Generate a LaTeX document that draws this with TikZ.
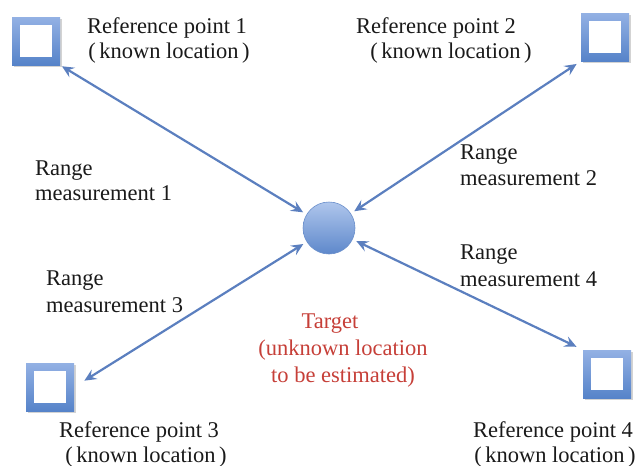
\documentclass[tikz,border=0pt]{standalone}
\usepackage{fontspec}
\setmainfont{Liberation Serif}
\usetikzlibrary{arrows.meta,shadows}

\definecolor{frametop}{HTML}{93B1E4}
\definecolor{framebot}{HTML}{5683C9}
\definecolor{linkblue}{HTML}{5B7FBF}
\definecolor{balltop}{HTML}{AFC6EC}
\definecolor{ballbot}{HTML}{5E88CB}
\definecolor{ballrim}{HTML}{6A8FCB}
\definecolor{txt}{HTML}{1A1A1A}
\definecolor{tred}{HTML}{C63F38}

% widely spaced parentheses around the second line of each reference label
\newcommand\knownloc{(\kern3.5pt known location\kern3.5pt)}

\tikzset{
  refbox/.style={rectangle, minimum width=48pt, minimum height=48pt, inner sep=0pt,
    top color=frametop, bottom color=framebot,
    drop shadow={shadow xshift=1.5pt, shadow yshift=-1.5pt, opacity=0.35},
    path picture={\fill[white]
      ([shift={(8pt,8pt)}]path picture bounding box.south west) rectangle
      ([shift={(-8pt,-8pt)}]path picture bounding box.north east);}},
  target/.style={circle, minimum size=52pt, inner sep=0pt,
    top color=balltop, bottom color=ballbot, draw=ballrim, line width=0.6pt},
  lbl/.style={font=\fontsize{22.5}{26}\selectfont, text=txt, inner sep=0pt},
  lblred/.style={lbl, text=tred},
  rangelink/.style={draw=linkblue, line width=2.2pt,
    {Stealth[length=12pt,width=11pt,inset=4.5pt]}-{Stealth[length=12pt,width=11pt,inset=4.5pt]}},
}

\begin{document}
\begin{tikzpicture}[x=1pt, y=-1pt]
\useasboundingbox (0,0) rectangle (638,466);

% reference points and target
\node[refbox] (r1) at (36,41) {};
\node[refbox] (r2) at (605,37) {};
\node[refbox] (r3) at (50,387) {};
\node[refbox] (r4) at (607,374) {};
\node[target] (t) at (329,228) {};

% range measurements
\draw[rangelink, shorten <=2pt, shorten >=4pt] (r1.south east) -- (t);
\draw[rangelink, shorten <=5pt, shorten >=4pt] (r2.south west) -- (t);
\draw[rangelink, shorten <=12pt, shorten >=4pt] (r3.east) -- (t);
\draw[rangelink, shorten <=7pt, shorten >=4pt] (r4.north west) -- (t);

% reference point labels
\node[lbl, anchor=base] (r1a) at (167,33) {Reference point 1};
\node[lbl, anchor=base] (r1b) at (169,58) {\knownloc};
\node[lbl, anchor=base] (r2a) at (436,33) {Reference point 2};
\node[lbl, anchor=base] (r2b) at (451,58) {\knownloc};
\node[lbl, anchor=base] (r3a) at (139,437) {Reference point 3};
\node[lbl, anchor=base] (r3b) at (146,462) {\knownloc};
\node[lbl, anchor=base] (r4a) at (553,437) {Reference point 4};
\node[lbl, anchor=base] (r4b) at (555,462) {\knownloc};

% range labels
\node[lbl, anchor=base west] (m1a) at (35,175) {Range};
\node[lbl, anchor=base west] (m1b) at (35,200) {measurement 1};
\node[lbl, anchor=base west] (m2a) at (460,159) {Range};
\node[lbl, anchor=base west] (m2b) at (460,185) {measurement 2};
\node[lbl, anchor=base west] (m3a) at (46,285) {Range};
\node[lbl, anchor=base west] (m3b) at (46,312) {measurement 3};
\node[lbl, anchor=base west] (m4a) at (460,259) {Range};
\node[lbl, anchor=base west] (m4b) at (460,286) {measurement 4};

% target label
\node[lblred, anchor=base] (ta) at (330,328) {Target};
\node[lblred, anchor=base] (tb) at (343,355) {(unknown location};
\node[lblred, anchor=base] (tc) at (343,382) {to be estimated)};
\end{tikzpicture}
\end{document}
